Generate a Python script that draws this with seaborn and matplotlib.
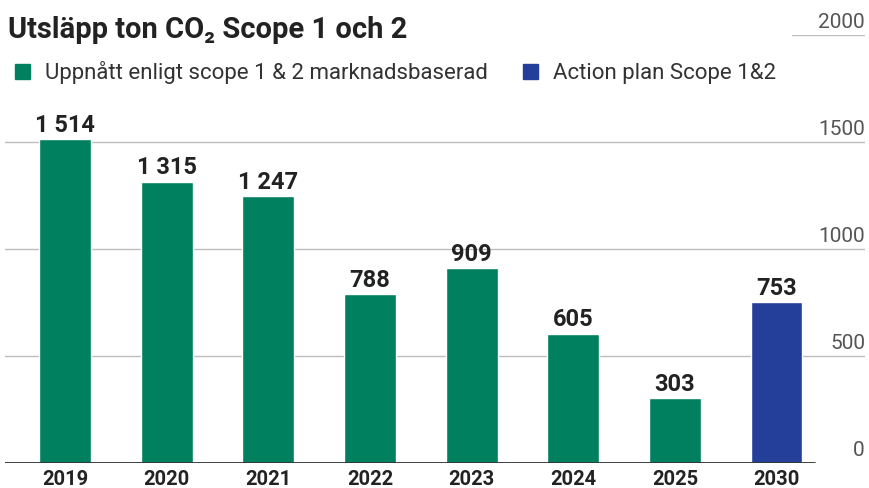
import pandas as pd
import seaborn as sns
import matplotlib.pyplot as plt
from matplotlib.patches import Rectangle

# data
years = ['2019', '2020', '2021', '2022', '2023', '2024', '2025', '2030']
values = [1514, 1315, 1247, 788, 909, 605, 303, 753]
series = ['Uppnått enligt scope 1 & 2 marknadsbaserad'] * 7 + ['Action plan Scope 1&2']
y_ticks = [0, 500, 1000, 1500, 2000]

green = '#00805e'
blue = '#233f99'

df = pd.DataFrame({'year': years, 'value': values, 'series': series})

sns.set_style('white')
plt.rcParams['font.family'] = ['Roboto', 'DejaVu Sans']

fig = plt.figure(figsize=(8.69, 4.89), dpi=100)
ax = fig.add_axes([5 / 869, 25 / 489, 860 / 869, 428 / 489])

sns.barplot(data=df, x='year', y='value', hue='series', dodge=False,
            palette=[green, blue], width=0.51, saturation=1, ax=ax, legend=False)

ax.set_xlim(-0.59, 7.87)
ax.set_ylim(0, 2000)
for s in ax.spines.values():
    s.set_visible(False)
ax.set_yticks([])
ax.set_xlabel('')
ax.set_ylabel('')
ax.tick_params(axis='x', length=0, pad=4)
for lab in ax.get_xticklabels():
    lab.set_fontsize(14.5)
    lab.set_fontweight('bold')
    lab.set_color('#222222')

# gridlines and tick labels on the right
for t in y_ticks[1:]:
    xmin = 0.915 if t == 2000 else 0
    ax.axhline(t, xmin=xmin, xmax=1, color='#bdbdbd', lw=1, zorder=0)
for t in y_ticks:
    ax.text(1.0, t + 18, str(t), transform=ax.get_yaxis_transform(),
            ha='right', va='bottom', fontsize=15, fontweight='normal', color='#555555')
ax.axhline(0, xmin=0, xmax=0.942, color='#333333', lw=1.3, zorder=3)

# value labels
for i, v in enumerate(values):
    txt = f'{v:,}'.replace(',', ' ')
    ax.text(i, v + 15, txt, ha='center', va='bottom', fontsize=17,
            fontweight='bold', color='#222222')

# title and legend
fig.text(8 / 869, 1 - 30 / 489, 'Utsläpp ton CO₂ Scope 1 och 2', fontsize=21,
         fontweight='bold', color='#222222', va='center', ha='left')
legend_items = [(15, series[0], green), (523, series[-1], blue)]
for x0, label, col in legend_items:
    fig.patches.append(Rectangle((x0 / 869, 1 - 80 / 489), 15 / 869, 15 / 489,
                                 transform=fig.transFigure, color=col))
    fig.text((x0 + 30) / 869, 1 - 73 / 489, label, fontsize=16, fontweight='normal',
             color='#333333', va='center', ha='left')

fig.savefig('out.png', dpi=100)
